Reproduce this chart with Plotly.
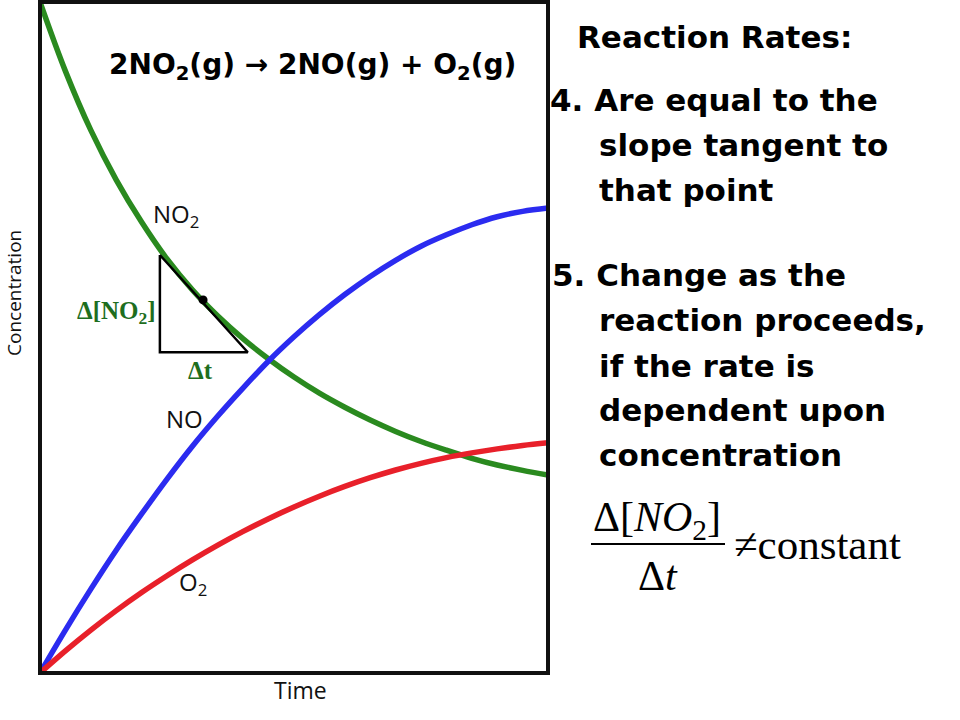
import plotly.graph_objects as go

# ---- data (time 0..10, concentration 0..100) ----
time = [0, 0.5, 1, 1.5, 2, 2.5, 3, 3.5, 4, 4.5, 5, 5.5, 6, 6.5, 7, 7.5, 8, 8.5, 9, 9.5, 10]
no2 = [100.0, 89.7, 80.9, 73.5, 67.2, 61.7, 57.1, 53.2, 49.8, 46.8, 44.1,
       41.7, 39.6, 37.7, 36.0, 34.5, 33.2, 32.0, 31.0, 30.2, 29.5]
no = [0.0, 6.4, 12.5, 18.3, 23.7, 28.9, 33.8, 38.3, 42.5, 46.5, 50.1,
      53.4, 56.4, 59.1, 61.5, 63.6, 65.3, 66.8, 68.0, 68.8, 69.3]
o2 = [0.0, 3.3, 6.4, 9.3, 12.0, 14.5, 16.85, 19.05, 21.1, 23.0, 24.75,
      26.35, 27.8, 29.1, 30.25, 31.25, 32.1, 32.8, 33.4, 33.9, 34.3]

tri_t = [2.36, 2.36, 4.09, 2.36]
tri_c = [62.3, 47.8, 47.8, 62.3]
dot_t = [3.21]
dot_c = [55.6]

W, H = 960, 720
L, R, T, B = 40, 548, 2, 673


def px(x):
    return (x - L) / (R - L)


def py(y):
    return (B - y) / (B - T)


GREEN = "#2a8a1f"
BLUE = "#2b2bf0"
RED = "#e8202a"
DKGREEN = "#1e6e1e"

fig = go.Figure()
fig.add_trace(go.Scatter(x=time, y=no2, mode="lines", line=dict(color=GREEN, width=5.5, shape="spline"), hoverinfo="skip"))
fig.add_trace(go.Scatter(x=time, y=no, mode="lines", line=dict(color=BLUE, width=5.5, shape="spline"), hoverinfo="skip"))
fig.add_trace(go.Scatter(x=time, y=o2, mode="lines", line=dict(color=RED, width=5.5, shape="spline"), hoverinfo="skip"))
fig.add_trace(go.Scatter(x=tri_t, y=tri_c, mode="lines", line=dict(color="black", width=2.5), hoverinfo="skip"))
fig.add_trace(go.Scatter(x=dot_t, y=dot_c, mode="markers", marker=dict(color="black", size=9), hoverinfo="skip"))

ann = []


def text(x, y, s, size, family, color="black", xanchor="center", angle=0):
    ann.append(dict(x=px(x), y=py(y), xref="paper", yref="paper", text=s, showarrow=False,
                    xanchor=xanchor, yanchor="middle", textangle=angle,
                    font=dict(size=size, family=family, color=color)))


SANS = "Open Sans"
BOLD = "DejaVu Sans"

text(312, 66, "<b>2NO<sub>2</sub>(g) \u2192 2NO(g) + O<sub>2</sub>(g)</b>", 28, BOLD)
text(176, 215, "NO<sub>2</sub>", 24, SANS, "#111")
text(184, 418, "NO", 24, SANS, "#111")
text(193, 583, "O<sub>2</sub>", 24, SANS, "#111")
text(116, 312, "<b>\u0394[NO<sub>2</sub>]</b>", 25, "Liberation Serif", DKGREEN)
text(200, 370, "<b>\u0394t</b>", 25, "Liberation Serif", DKGREEN)
text(14, 293, "Concentration", 19, SANS, "#111", angle=-90)
text(300, 690, "Time", 23, SANS, "#111")

lines = [
    (575, 37, "Reaction Rates:"),
    (548, 100, "4. Are equal to the"),
    (597, 145, "slope tangent to"),
    (597, 190, "that point"),
    (550, 275, "5. Change as the"),
    (597, 320, "reaction proceeds,"),
    (597, 366, "if the rate is"),
    (597, 410, "dependent upon"),
    (597, 455, "concentration"),
]
for x, y, s in lines:
    text(x, y, "<b>" + s + "</b>", 31, BOLD, xanchor="left")

SERIF = "Liberation Serif"
text(657, 520, "\u0394[<i>NO</i><sub>2</sub>]", 42, SERIF)
text(658, 576, "\u0394<i>t</i>", 42, SERIF)
text(732, 544, "\u2260constant", 43, SERIF, xanchor="left")

shapes = [
    dict(type="rect", xref="paper", yref="paper", x0=0, y0=0, x1=1, y1=1,
         line=dict(color="#111", width=4)),
    dict(type="line", xref="paper", yref="paper", x0=px(591), x1=px(725), y0=py(544), y1=py(544),
         line=dict(color="black", width=2)),
]

fig.update_layout(
    width=W, height=H,
    margin=dict(l=L, r=W - R, t=T, b=H - B),
    paper_bgcolor="white", plot_bgcolor="white",
    showlegend=False,
    xaxis=dict(range=[0, 10], showgrid=False, zeroline=False, showticklabels=False, ticks=""),
    yaxis=dict(range=[0, 100], showgrid=False, zeroline=False, showticklabels=False, ticks=""),
    annotations=ann, shapes=shapes,
)
fig.write_html("out.html", config={"displayModeBar": False},
               post_script="document.body.style.margin='0';document.body.style.overflow='hidden';")
